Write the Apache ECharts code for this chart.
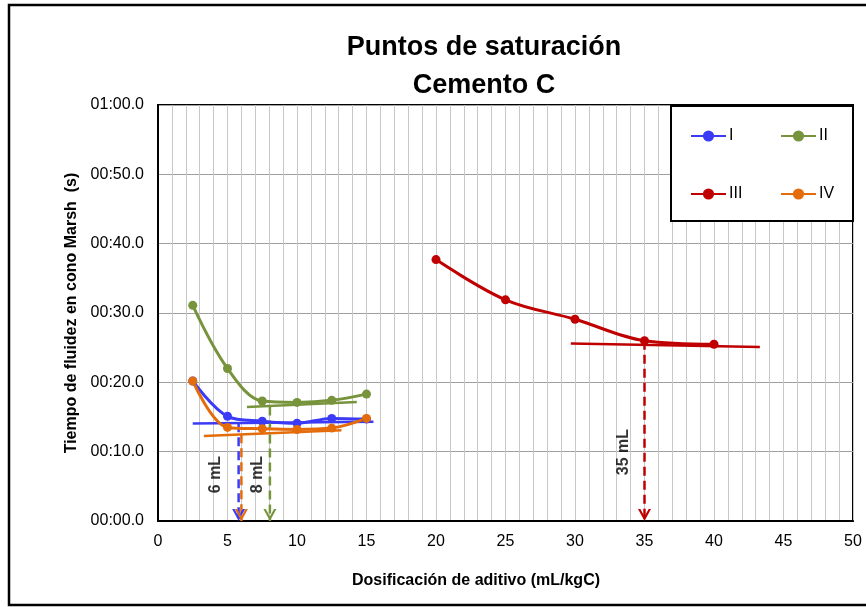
<!DOCTYPE html>
<html><head><meta charset="utf-8">
<script src="https://cdn.jsdelivr.net/npm/echarts@6/dist/echarts.min.js"></script>
<style>html,body{margin:0;padding:0;background:#fff}#c{width:866px;height:607px}</style>
</head><body><div id="c"></div>
<script>
// ---- data ----
const dosesA = [2.5, 5, 7.5, 10, 12.5, 15];
const timesI = [20.2, 15.1, 14.4, 14.1, 14.8, 14.7];
const timesII = [31.1, 22.0, 17.3, 17.1, 17.4, 18.3];
const timesIV = [20.2, 13.5, 13.3, 13.2, 13.4, 14.8];
const dosesIII = [20, 25, 30, 35, 40];
const timesIII = [37.7, 31.9, 29.1, 26.0, 25.5];

// tangent (saturation) lines: [x, y] end points
const tangentI = [[2.5, 14.05], [15.5, 14.3]];
const tangentII = [[6.4, 16.45], [14.3, 17.17]];
const tangentIII = [[29.7, 25.6], [43.3, 25.1]];
const tangentIV = [[3.3, 12.27], [13.2, 13.1]];

// arrows: x position, start time
const arrowI = [5.8, 14.1];
const arrowIV = [6.0, 12.5];
const arrowII = [8.05, 16.5];
const arrowIII = [35, 26.0];

// arrow labels: [x, y, text]
const arrowLabels = [[4.15, 6.7, '6 mL'], [7.15, 6.7, '8 mL'], [33.5, 9.95, '35 mL']];

const seriesNames = ['I', 'II', 'III', 'IV'];
const colors = {I: '#3B3BF7', II: '#77933C', III: '#C00000', IV: '#E46C0A'};

const FONT = '"Liberation Sans", Arial, sans-serif';
const chevron = 'path://M0,0 L6.5,12 L13,0 L10.6,0 L6.5,7.6 L2.4,0 Z';

function zip(xs, ys) { return xs.map((x, i) => [x, ys[i]]); }
function pad(n) { return (n < 10 ? '0' : '') + n; }

function mainSeries(name, xs, ys) {
  return {
    name: name, type: 'line', data: zip(xs, ys), smooth: 0.35,
    symbol: 'circle', symbolSize: 9, silent: true,
    lineStyle: {color: colors[name], width: 3},
    itemStyle: {color: colors[name], borderWidth: 0},
    z: 5
  };
}
function tangentSeries(name, pts) {
  return {
    name: name + '_t', type: 'line', data: pts, symbol: 'none', silent: true,
    lineStyle: {color: colors[name], width: 2.5}, z: 4
  };
}
function arrowSeries(name, a) {
  return {
    name: name + '_a', type: 'line', silent: true,
    data: [
      {value: [a[0], a[1]], symbol: 'none'},
      {value: [a[0], 0], symbol: chevron, symbolSize: [13, 12], symbolOffset: [0, '-50%'], symbolKeepAspect: false}
    ],
    showSymbol: true,
    lineStyle: {color: colors[name], width: 2.5, type: [9, 5]},
    itemStyle: {color: colors[name], borderWidth: 0},
    z: 4
  };
}

const series = [
  tangentSeries('I', tangentI), tangentSeries('II', tangentII),
  tangentSeries('III', tangentIII), tangentSeries('IV', tangentIV),
  arrowSeries('II', arrowII), arrowSeries('I', arrowI), arrowSeries('IV', arrowIV), arrowSeries('III', arrowIII),
  mainSeries('I', dosesA, timesI),
  mainSeries('II', dosesA, timesII),
  mainSeries('III', dosesIII, timesIII),
  mainSeries('IV', dosesA, timesIV),
  {
    name: 'labels', type: 'scatter', symbolSize: 0, silent: true,
    data: arrowLabels.map(l => ({value: [l[0], l[1]], label: {formatter: l[2]}})),
    label: {show: true, position: 'inside', rotate: 90, fontSize: 16, fontWeight: 'bold', color: '#000', fontFamily: FONT},
    z: 6
  }
];

const legendBase = {itemWidth: 35, itemHeight: 14, padding: 0, itemGap: 5, z: 10,
  textStyle: {fontSize: 16, color: '#000', fontFamily: FONT, padding: [0, 0, 0, -2]}};
const legendPos = {I: [690, 128], II: [780, 128], III: [690, 186], IV: [780, 186]};

const option = {
  animation: false,
  backgroundColor: '#fff',
  textStyle: {fontFamily: FONT},
  title: [
    {text: 'Puntos de saturación\nCemento C', left: 484, top: 29, textAlign: 'center', padding: 0,
     textStyle: {fontSize: 27, fontWeight: 'bold', color: '#000', lineHeight: 38, fontFamily: FONT}},
    {text: 'Dosificación de aditivo (mL/kgC)', left: 476, top: 573, textAlign: 'center', padding: 0,
     textStyle: {fontSize: 16, fontWeight: 'bold', color: '#000', fontFamily: FONT}}
  ],
  legend: seriesNames.map(n => Object.assign({}, legendBase, {data: [n], left: legendPos[n][0], top: legendPos[n][1]})),
  grid: {left: 158, right: 13, top: 105, bottom: 86, show: true, borderColor: '#000', borderWidth: 2, containLabel: false},
  xAxis: {
    type: 'value', min: 0, max: 50, interval: 5,
    axisLine: {show: true, lineStyle: {color: '#000', width: 2}},
    axisTick: {show: false},
    minorTick: {show: false, splitNumber: 5},
    minorSplitLine: {show: true, lineStyle: {color: '#c8c8c8', width: 1}},
    splitLine: {show: true, lineStyle: {color: '#c8c8c8', width: 1}},
    axisLabel: {fontSize: 16, color: '#000', margin: 13, fontFamily: FONT}
  },
  yAxis: {
    type: 'value', min: 0, max: 60, interval: 10,
    name: 'Tiempo de fluidez en cono Marsh  (s)', nameLocation: 'middle', nameGap: 77, nameRotate: 90,
    nameTextStyle: {fontSize: 16, fontWeight: 'bold', color: '#000', fontFamily: FONT},
    axisLine: {show: true, lineStyle: {color: '#000', width: 2}},
    axisTick: {show: false},
    splitLine: {show: true, lineStyle: {color: '#a0a0a0', width: 1}},
    axisLabel: {fontSize: 16, color: '#000', margin: 14, fontFamily: FONT,
      formatter: v => pad(Math.floor(v / 60)) + ':' + pad(v % 60) + '.0'}
  },
  graphic: [
    {type: 'rect', z: 8, shape: {x: 671, y: 106, width: 182, height: 115},
     style: {fill: '#fff', stroke: '#000', lineWidth: 2}},
    {type: 'rect', z: 8, shape: {x: 9, y: 5, width: 870, height: 600},
     style: {fill: 'none', stroke: '#000', lineWidth: 2.5}}
  ],
  series: series
};

const chart = echarts.init(document.getElementById('c'), null, {renderer: 'canvas'});
chart.setOption(option);
</script>
</body></html>
